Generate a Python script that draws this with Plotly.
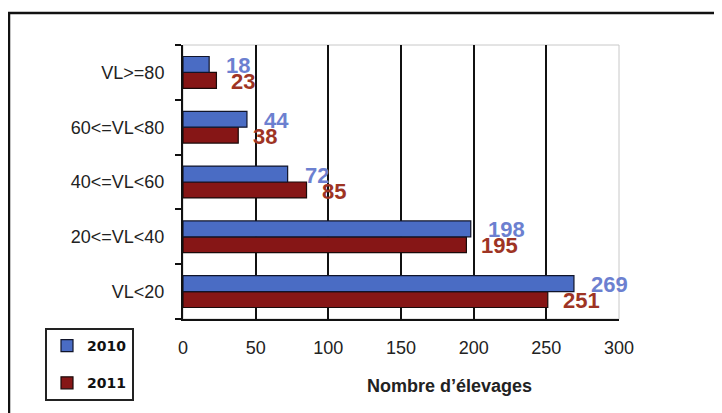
import plotly.graph_objects as go

categories = ["VL<20", "20<=VL<40", "40<=VL<60", "60<=VL<80", "VL>=80"]
values_2010 = [269, 198, 72, 44, 18]
values_2011 = [251, 195, 85, 38, 23]
series_names = ["2010", "2011"]
x_ticks = [0, 50, 100, 150, 200, 250, 300]
x_grid = [50, 100, 150, 200, 250]
x_title = "Nombre d’élevages"

blue_bar = "#4a6cc4"
red_bar = "#861616"
blue_txt = "#6c80d0"
red_txt = "#9e3424"

# page has an 8px body margin: figure pixel = screen pixel - 8
OFF = 8
W, H = 722, 413
L, T = 183 - OFF, 45 - OFF
pw, ph = 436, 274
R, B = W - L - pw, H - T - ph

def px_x(p):
    return (p - OFF - L) / pw

def px_y(p):
    return (T + ph - (p - OFF)) / ph

fig = go.Figure()
fig.add_trace(go.Bar(y=categories, x=values_2011, name=series_names[1], orientation="h",
                     marker=dict(color=red_bar, line=dict(color="#1a0a0a", width=1.2)),
                     legendgroup="b", legendrank=2))
fig.add_trace(go.Bar(y=categories, x=values_2010, name=series_names[0], orientation="h",
                     marker=dict(color=blue_bar, line=dict(color="#10142a", width=1.2)),
                     legendgroup="a", legendrank=1))

label_font = "Liberation Sans, Arial, sans-serif"
annotations = []
for c, v in zip(categories, values_2010):
    annotations.append(dict(x=v, y=c, text=str(v), showarrow=False, xanchor="left",
                            yanchor="middle", xshift=15, yshift=7,
                            font=dict(family=label_font, size=22, color=blue_txt, weight="bold")))
for c, v in zip(categories, values_2011):
    annotations.append(dict(x=v, y=c, text=str(v), showarrow=False, xanchor="left",
                            yanchor="middle", xshift=13, yshift=-9,
                            font=dict(family=label_font, size=22, color=red_txt, weight="bold")))
annotations.append(dict(xref="paper", yref="paper", x=px_x(449), y=px_y(386), text=x_title,
                        showarrow=False, xanchor="center", yanchor="middle",
                        font=dict(family=label_font, size=18, color="#222222", weight="bold")))

shapes = [
    dict(type="rect", xref="paper", yref="paper", x0=0, x1=1, y0=0, y1=1,
         line=dict(color="#c8c8c8", width=1), layer="below"),
    dict(type="rect", xref="paper", yref="paper", x0=px_x(9), x1=px_x(760), y0=px_y(440), y1=px_y(13),
         line=dict(color="#111111", width=2.5), layer="above"),
]

fig.update_layout(
    width=W, height=H,
    margin=dict(l=L, r=R, t=T, b=B, autoexpand=False),
    paper_bgcolor="white", plot_bgcolor="white",
    barmode="group", bargap=0.42, bargroupgap=0,
    font=dict(family=label_font, size=18, color="#222222"),
    showlegend=True,
    legend=dict(x=px_x(45), y=px_y(328), xanchor="left", yanchor="top",
                traceorder="grouped", tracegroupgap=16,
                bordercolor="#222222", borderwidth=2, bgcolor="white",
                font=dict(family="DejaVu Sans, sans-serif", size=14, color="#111111", weight="bold"),
                entrywidth=78, itemwidth=30),
    annotations=annotations,
    shapes=shapes,
)
fig.update_xaxes(range=[0, 300], tickvals=x_ticks, showgrid=False, zeroline=False,
                 showline=True, linecolor="#111111", linewidth=2,
                 ticks="inside", ticklen=10, tickwidth=2, tickcolor="#111111",
                 ticklabelstandoff=11,
                 minor=dict(tickvals=x_grid, showgrid=True, gridcolor="#111111", gridwidth=2, ticks=""))
fig.update_yaxes(showline=True, linecolor="#111111", linewidth=2, showgrid=False,
                 ticks="outside", tickson="boundaries", ticklen=6, tickwidth=2, tickcolor="#111111",
                 ticklabelstandoff=13)

fig.write_html("out.html")
